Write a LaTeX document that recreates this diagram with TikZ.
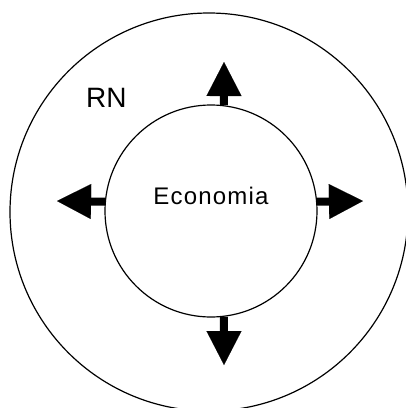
\documentclass[tikz,border=0pt]{standalone}
\usepackage{fontspec}
\setmainfont{Liberation Sans}
\usetikzlibrary{arrows.meta}

\begin{document}
\begin{tikzpicture}[x=1pt, y=-1pt,
    ring/.style={circle, draw=black, line width=1.2pt, inner sep=0pt},
    flow/.style={line width=8pt, -{Triangle[length=34pt, width=35pt, line width=0.1pt]}},
    label/.style={inner sep=0pt, font=\fontsize{24}{28}\selectfont},
]

% ---- Layout ----
\def\cx{211}
\def\cy{211}

\useasboundingbox (0,0) rectangle (406,408);

% ---- Circles ----
\node[ring, minimum size=398pt] (rn) at (209,212) {};
\node[ring, minimum size=212pt] (eco) at (\cx,\cy) {};

% ---- Labels ----
\node[label, anchor=base] (ecotext) at (211,204) {\addfontfeature{LetterSpace=5}Economia};
\node[label, font=\fontsize{28}{32}\selectfont, anchor=base west] (rntext) at (86,107) {RN};

% ---- Arrow tips ----
\coordinate (upTip) at (224,62);
\coordinate (downTip) at (224,365);
\coordinate (leftTip) at (57,201);
\coordinate (rightTip) at (363,201);

% ---- Arrows ----
\draw[flow] (eco.83) -- (upTip);
\draw[flow] (eco.-83) -- (downTip);
\draw[flow] (eco.175) -- (leftTip);
\draw[flow] (eco.5) -- (rightTip);

\end{tikzpicture}
\end{document}
